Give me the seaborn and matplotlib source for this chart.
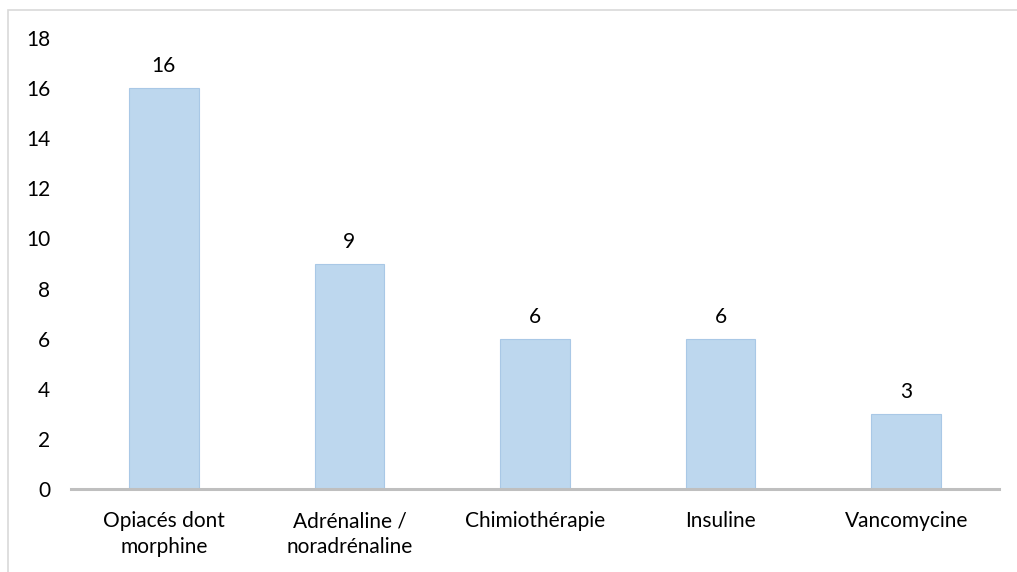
import matplotlib
matplotlib.use("Agg")
import matplotlib.pyplot as plt
import seaborn as sns
import pandas as pd
from matplotlib.patches import Rectangle

categories = ["Opiacés dont\nmorphine", "Adrénaline /\nnoradrénaline", "Chimiothérapie", "Insuline", "Vancomycine"]
counts = [16, 9, 6, 6, 3]
y_ticks = [0, 2, 4, 6, 8, 10, 12, 14, 16, 18]

sns.set_theme(style="white")
plt.rcParams["font.family"] = ["Lato", "DejaVu Sans"]

df = pd.DataFrame({"categorie": categories, "n": counts})

fig = plt.figure(figsize=(10.17, 5.72), dpi=100)
ax = fig.add_axes([71 / 1017, 1 - 489 / 572, (999 - 71) / 1017, (489 - 38) / 572])

sns.barplot(data=df, x="categorie", y="n", ax=ax, color="#BDD7EE",
            edgecolor="#A9C8E6", linewidth=0.8, width=0.376, saturation=1)

FS = 15
for i, v in enumerate(counts):
    ax.annotate(str(v), (i, v), xytext=(0, 8.5), textcoords="offset points",
                ha="center", va="bottom", fontsize=FS, color="#000000")

ax.set_ylim(0, 18)
ax.set_xlim(-0.5, len(categories) - 0.5)
ax.set_yticks(y_ticks)
ax.set_yticklabels([str(t) for t in y_ticks], fontsize=FS, color="#000000")
ax.tick_params(axis="x", labelsize=FS, colors="#000000", length=0, pad=16)
ax.tick_params(axis="y", length=0, pad=15)
for lbl in ax.get_xticklabels():
    lbl.set_linespacing(1.35)
ax.set_xlabel("")
ax.set_ylabel("")
for side in ("top", "right", "left"):
    ax.spines[side].set_visible(False)
ax.spines["bottom"].set_color("#BFBFBF")
ax.spines["bottom"].set_linewidth(2.2)
ax.grid(False)

# outer chart frame
fig.patches.append(Rectangle((8 / 1017, -0.1), 1.2, 1 - 10 / 572 + 0.1,
                             transform=fig.transFigure, fill=False,
                             edgecolor="#D9D9D9", linewidth=1.2))

fig.savefig("out.png", dpi=100)
